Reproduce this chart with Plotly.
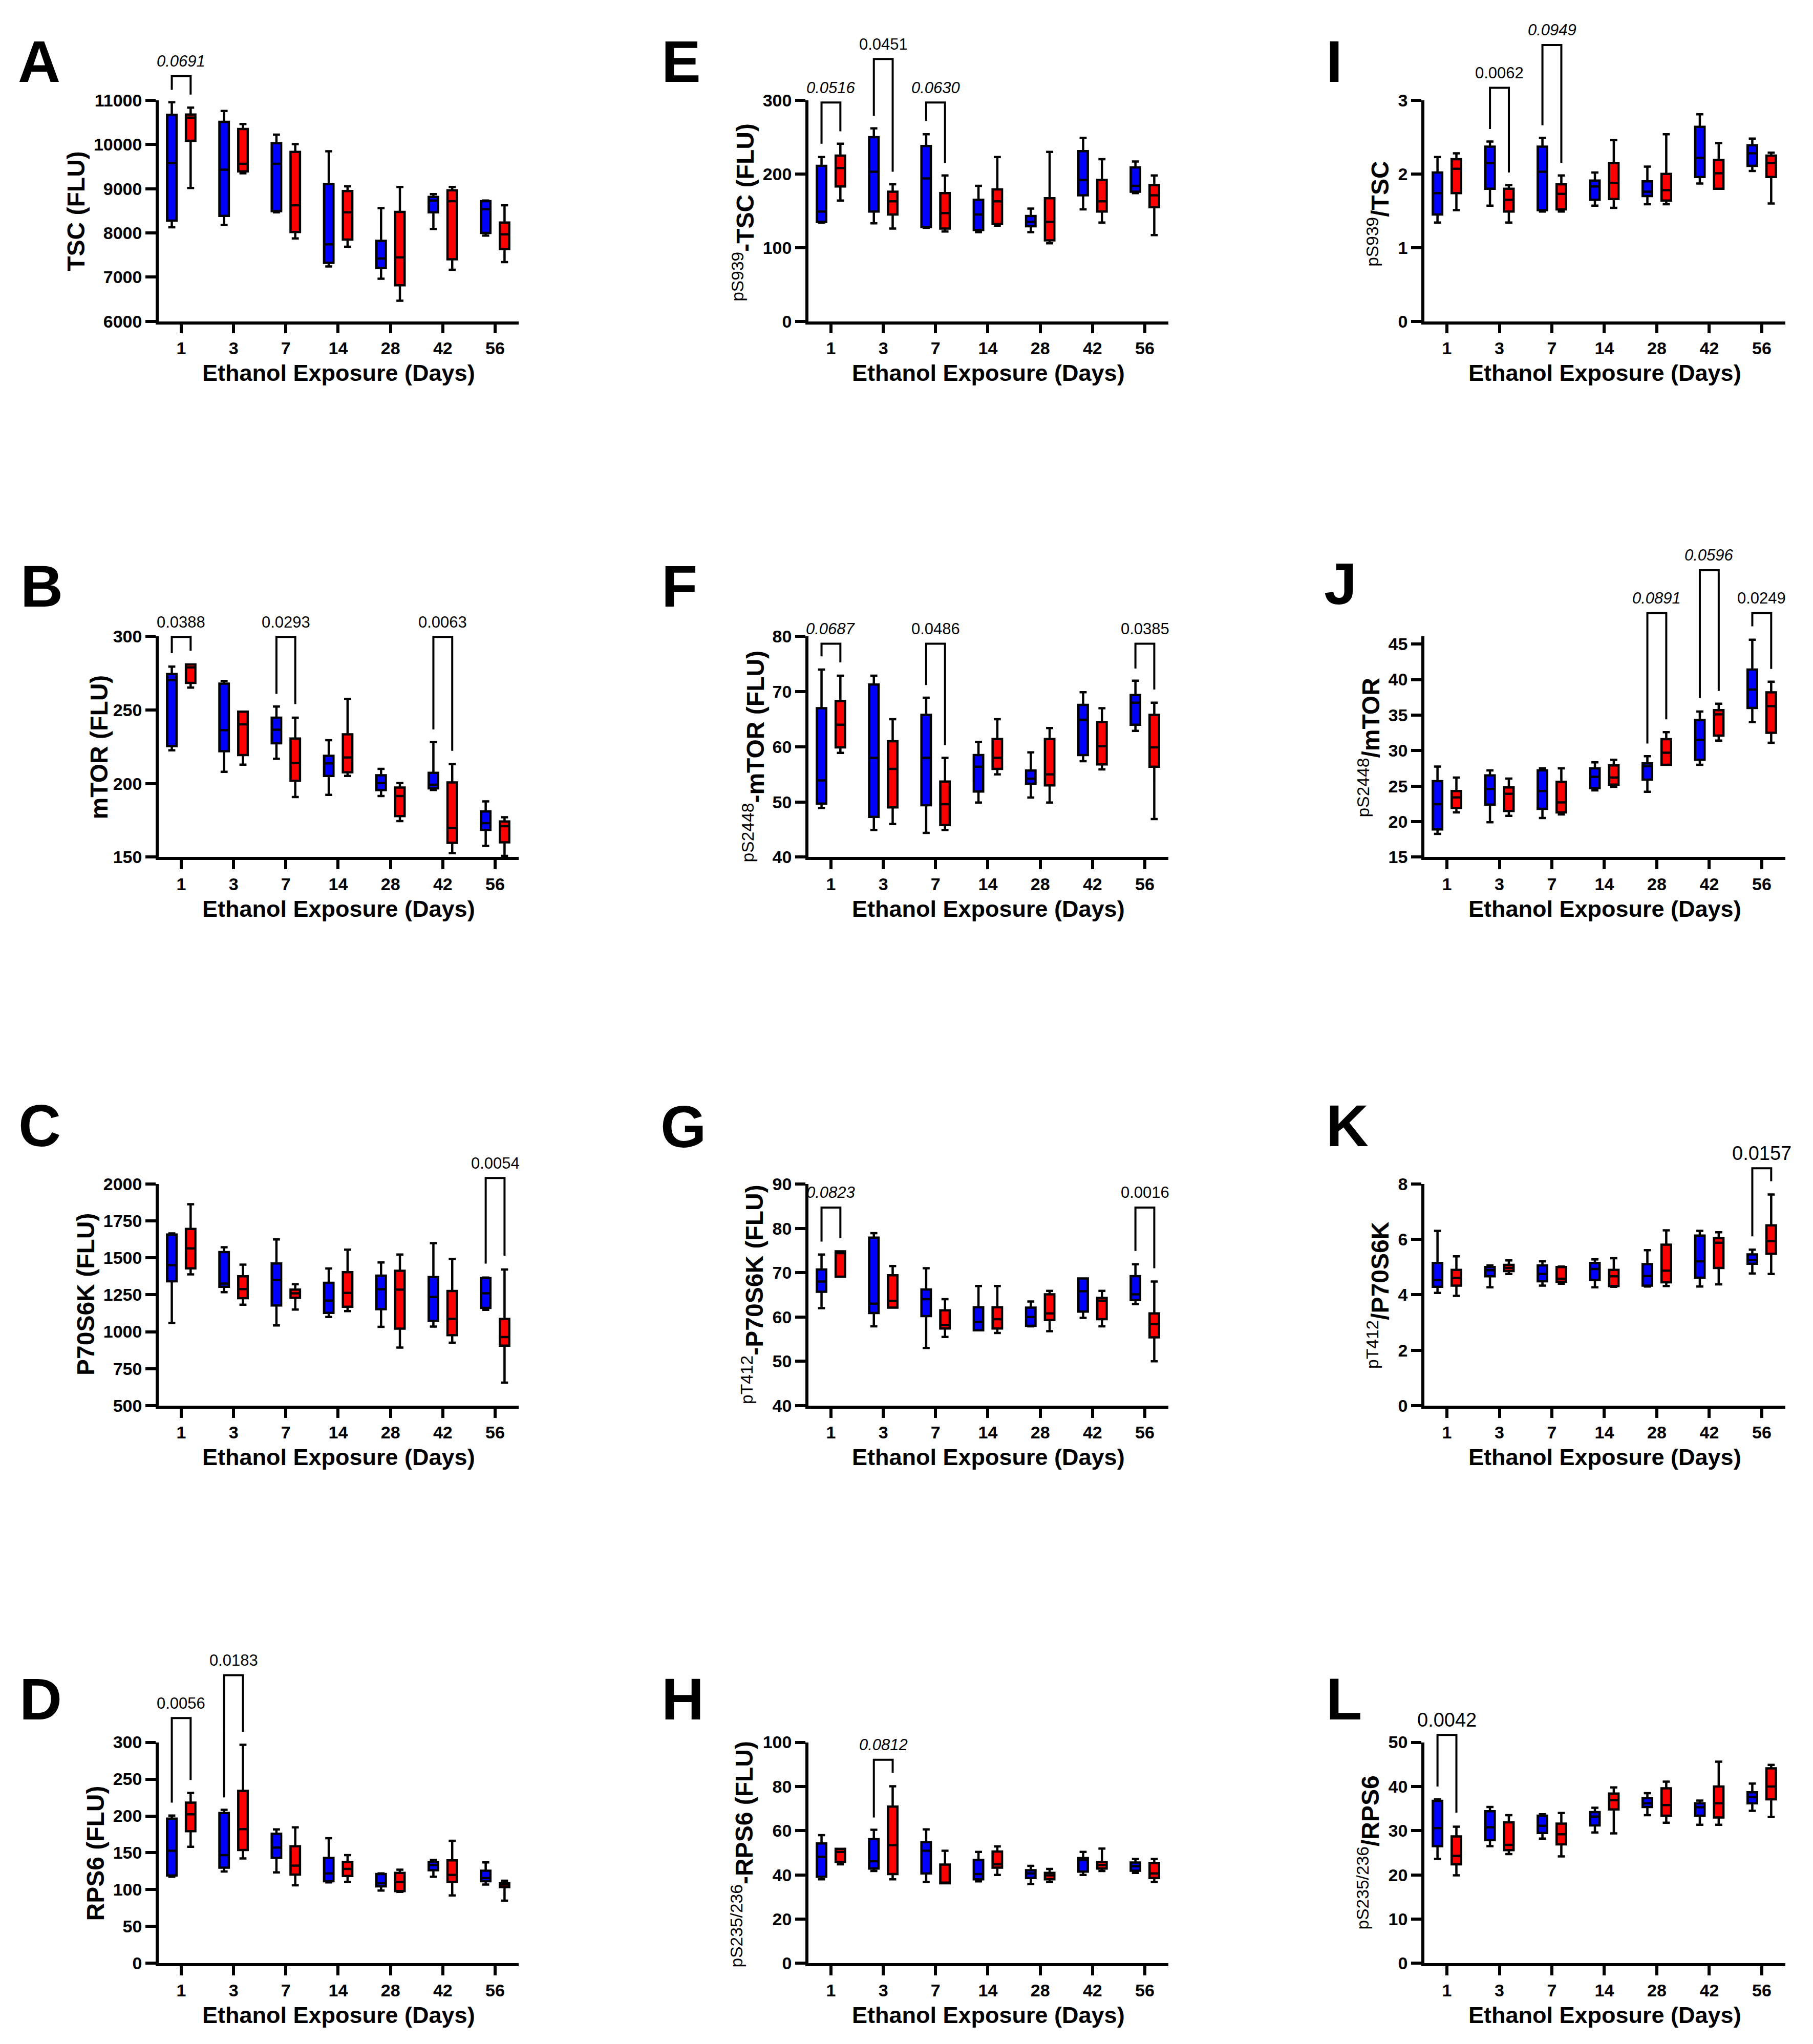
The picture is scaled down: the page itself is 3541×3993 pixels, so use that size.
import plotly.graph_objects as go

W, H = 3541, 3993
FONT = "Liberation Sans, Arial, Helvetica, sans-serif"
DAYS = ["1", "3", "7", "14", "28", "42", "56"]
X_TITLE = "Ethanol Exposure (Days)"

# ---- data: per day (lower whisker, Q1, median, Q3, upper whisker) ----
A_ctl = [(8128, 8278, 9580, 10673, 10957), (8181, 8385, 9430, 10512, 10759), (8465, 8492, 9564, 10030, 10223),
         (7243, 7324, 7742, 9108, 9848), (6965, 7206, 7420, 7822, 8562), (8090, 8465, 8733, 8814, 8878),
         (7940, 7999, 8535, 8717, 8733)]
A_eth = [(9017, 10084, 10609, 10678, 10834), (9349, 9392, 9564, 10352, 10464), (7876, 8020, 8626, 9832, 10009),
         (7688, 7849, 8465, 8947, 9055), (6466, 6815, 7447, 8476, 9039), (7168, 7404, 8717, 8964, 9039),
         (7340, 7635, 7967, 8235, 8626)]
B_ctl = [(222.6, 225.5, 270.5, 274.5, 279.5), (208, 222, 236.3, 268, 269.8), (216.9, 227.4, 236.6, 244.8, 252.4),
         (192.3, 205.2, 213.7, 218.9, 229.5), (191.5, 195.5, 200.3, 205.6, 210), (195.6, 196.8, 199.2, 207.3, 228.2),
         (157.6, 168.5, 173.1, 181, 187.9)]
B_eth = [(265.3, 268.5, 279, 281, 281), (212.9, 219.4, 240.3, 248.9, 248.9), (190.8, 201.9, 214, 230.6, 244.8),
         (205.2, 207.6, 217.7, 233.5, 257.6), (174.5, 177.9, 191.5, 197.3, 200.3), (152.7, 159.7, 169.7, 200.8, 213.2),
         (150.8, 160, 171, 174.2, 177.1)]
C_ctl = [(1059, 1342, 1452, 1658, 1666), (1268, 1304, 1326, 1539, 1572), (1043, 1178, 1350, 1462, 1625),
         (1100, 1128, 1211, 1331, 1428), (1033, 1153, 1288, 1380, 1469), (1035, 1074, 1235, 1370, 1600),
         (1148, 1161, 1260, 1363, 1367)]
C_eth = [(1388, 1429, 1564, 1696, 1863), (1183, 1227, 1289, 1375, 1454), (1150, 1230, 1260, 1285, 1322),
         (1140, 1169, 1263, 1403, 1556), (893, 1021, 1285, 1413, 1523), (926, 977, 1087, 1276, 1493),
         (655, 906, 964, 1087, 1421)]
D_ctl = [(117.5, 119.3, 152.8, 196.3, 200.5), (124.6, 129.9, 146.8, 204, 208.3), (123.5, 143.3, 157.1, 175.8, 181.8),
         (109.8, 111.5, 122.1, 143, 169.8), (98.8, 104.5, 108.7, 121.1, 122.1), (117.5, 126.4, 133.4, 137.7, 140.5),
         (107, 111.5, 115.8, 125.7, 137)]
D_eth = [(158.1, 179.3, 202.3, 218.1, 231.2), (142.3, 153.9, 182.1, 234, 296.5), (105.9, 120.4, 132.7, 158.8, 184.6),
         (110.5, 118.6, 128.1, 137.7, 146.8), (97.1, 98.1, 110.5, 122.8, 127.1), (92.1, 110.5, 120, 139.8, 166.3),
         (85.1, 103.4, 107, 108.7, 112.2)]
E_ctl = [(134, 135, 149, 211, 223), (133, 149, 203, 250, 262), (127, 128, 194, 238, 254), (121, 124, 145, 165, 184),
         (121, 129, 135, 143, 153), (152, 171, 192, 231, 249), (174, 176, 184, 209, 217)]
E_eth = [(164, 183, 208, 225, 241), (126, 145, 163, 176, 186), (122, 126, 147, 174, 198), (130, 132, 163, 179, 223),
         (106, 110, 135, 167, 230), (134, 149, 163, 192, 220), (117, 155, 171, 185, 198)]
F_ctl = [(48.9, 49.7, 53.9, 67.0, 74.0), (44.9, 47.3, 58.0, 71.3, 72.9), (44.4, 49.4, 58.0, 65.8, 68.9),
         (49.9, 51.9, 56.4, 58.5, 60.9), (50.8, 53.3, 54.2, 55.7, 59.0), (57.4, 58.5, 64.9, 67.6, 69.9),
         (62.9, 64.0, 68.0, 69.4, 72.0)]
F_eth = [(58.9, 59.9, 64.0, 68.3, 72.9), (46.0, 49.0, 56.0, 61.0, 65.0), (44.9, 45.8, 49.6, 53.7, 58.0),
         (55.0, 56.0, 58.0, 61.4, 65.0), (49.9, 53.0, 55.0, 61.4, 63.4), (55.9, 56.8, 60.1, 64.5, 67.0),
         (46.9, 56.4, 59.9, 65.8, 68.0)]
G_ctl = [(62.0, 65.7, 68.0, 70.7, 74.1), (57.9, 60.9, 63.0, 77.9, 78.9), (53.0, 60.2, 64.0, 66.2, 71.0),
         (57.0, 57.0, 58.9, 62.2, 67.0), (57.9, 58.0, 60.0, 62.1, 63.5), (59.8, 61.2, 65.8, 68.7, 68.7),
         (62.9, 63.8, 65.1, 69.2, 71.9)]
G_eth = [(69.1, 69.1, 74.4, 74.8, 74.8), (62.1, 62.1, 63.6, 69.4, 71.5), (55.5, 57.4, 58.2, 61.5, 64.0),
         (56.4, 57.4, 59.5, 62.2, 67.0), (56.8, 59.3, 60.8, 65.1, 65.9), (57.9, 59.5, 63.7, 64.3, 65.9),
         (50.0, 55.4, 58.4, 60.8, 68.0)]
H_ctl = [(38.0, 39.2, 48.2, 54.2, 58.0), (41.8, 42.9, 46.2, 56.2, 60.4), (36.8, 40.7, 50.9, 54.8, 60.6),
         (37.1, 38.0, 40.4, 46.8, 50.4), (35.9, 38.6, 40.7, 42.1, 44.1), (40.0, 41.5, 46.8, 47.6, 50.4),
         (40.9, 41.9, 43.9, 45.6, 47.2)]
H_eth = [(44.8, 45.9, 50.4, 51.8, 51.8), (38.0, 40.4, 53.5, 70.9, 80.1), (36.2, 36.2, 36.5, 44.7, 50.9),
         (40.0, 43.3, 44.8, 50.6, 52.9), (36.8, 38.0, 39.8, 40.9, 42.7), (41.8, 42.9, 44.5, 45.9, 51.9),
         (36.8, 38.6, 40.7, 45.4, 47.2)]
I_ctl = [(1.34, 1.45, 1.74, 2.02, 2.23), (1.57, 1.80, 2.15, 2.37, 2.44), (1.49, 1.51, 2.03, 2.37, 2.49),
         (1.57, 1.65, 1.83, 1.91, 2.02), (1.59, 1.70, 1.76, 1.90, 2.10), (1.87, 1.96, 2.22, 2.64, 2.81),
         (2.04, 2.11, 2.28, 2.39, 2.48)]
I_eth = [(1.51, 1.74, 2.07, 2.20, 2.28), (1.34, 1.49, 1.65, 1.80, 1.85), (1.49, 1.52, 1.73, 1.86, 1.98),
         (1.54, 1.66, 1.88, 2.15, 2.46), (1.59, 1.64, 1.78, 2.00, 2.54), (1.80, 1.80, 2.01, 2.19, 2.42),
         (1.60, 1.96, 2.15, 2.25, 2.29)]
J_ctl = [(18.26, 18.9, 22.44, 25.7, 27.75), (19.9, 22.4, 24.6, 26.5, 27.2), (20.5, 21.8, 24.3, 27.2, 27.5),
         (24.4, 24.7, 26.3, 27.5, 28.35), (24.2, 25.9, 27.8, 28.2, 29.2), (28.0, 28.7, 31.5, 34.3, 35.5),
         (34.0, 36.0, 38.6, 41.4, 45.6)]
J_eth = [(21.3, 21.9, 23.4, 24.3, 26.2), (20.8, 21.5, 23.9, 24.8, 26.05), (21.0, 21.3, 22.7, 25.6, 27.5),
         (24.9, 25.2, 26.2, 27.9, 28.7), (28.0, 28.0, 29.7, 31.6, 32.6), (31.4, 32.1, 35.1, 35.7, 36.6),
         (31.1, 32.5, 36.25, 38.2, 39.7)]
K_ctl = [(4.07, 4.29, 4.54, 5.15, 6.31), (4.27, 4.67, 4.89, 5.00, 5.06), (4.33, 4.49, 4.75, 5.06, 5.21),
         (4.27, 4.54, 4.93, 5.15, 5.28), (4.30, 4.33, 4.68, 5.11, 5.61), (4.30, 4.62, 5.21, 6.14, 6.31),
         (4.77, 5.12, 5.26, 5.46, 5.63)]
K_eth = [(3.96, 4.33, 4.61, 4.90, 5.39), (4.75, 4.86, 4.97, 5.08, 5.24), (4.40, 4.47, 4.58, 5.00, 5.02),
         (4.29, 4.32, 4.67, 4.90, 5.32), (4.32, 4.45, 4.87, 5.81, 6.33), (4.38, 4.97, 5.88, 6.05, 6.26),
         (4.75, 5.48, 5.94, 6.51, 7.62)]
L_ctl = [(23.6, 26.5, 30.6, 36.76, 37.06), (26.5, 27.9, 30.8, 34.4, 35.35), (28.2, 29.5, 31.1, 33.4, 33.7),
         (29.6, 31.2, 33.2, 34.2, 35.2), (33.5, 35.35, 36.2, 37.35, 38.5), (31.35, 33.4, 35.3, 36.2, 36.8),
         (34.5, 36.2, 37.6, 38.7, 40.65)]
L_eth = [(19.9, 22.4, 24.3, 28.7, 30.9), (24.7, 25.6, 26.8, 31.9, 33.5), (24.2, 26.9, 29.2, 31.6, 34.0),
         (29.4, 34.8, 36.9, 38.4, 39.8), (31.8, 33.4, 35.8, 39.6, 41.1), (31.35, 33.0, 36.2, 40.0, 45.6),
         (33.1, 37.1, 40.0, 44.1, 44.9)]

# ---- significance brackets: (day index, top, left leg end, right leg end, p label, italic) ----
A_sig = [(0, 11547, 11236, 11129, "0.0691", True)]
B_sig = [(0, 299.7, 288.7, 290.3, "0.0388", False), (2, 299.7, 261, 254, "0.0293", False),
         (5, 299.7, 236.8, 222.3, "0.0063", False)]
C_sig = [(6, 2041, 1461, 1515, "0.0054", False)]
D_sig = [(0, 332.9, 218.1, 248.9, "0.0056", False), (1, 391.1, 225.2, 314.2, "0.0183", False)]
E_sig = [(0, 297, 241, 258, "0.0516", True), (1, 356, 279, 203, "0.0451", False), (2, 297, 272, 215, "0.0630", True)]
F_sig = [(0, 78.7, 76.4, 75.3, "0.0687", True), (2, 78.7, 71.2, 60.3, "0.0486", False),
         (6, 78.7, 74.2, 70.4, "0.0385", False)]
G_sig = [(0, 84.7, 77.0, 77.8, "0.0823", True), (6, 84.7, 74.9, 71.0, "0.0016", False)]
H_sig = [(1, 92.1, 66.0, 86.2, "0.0812", True)]
I_sig = [(1, 3.17, 2.61, 2.02, "0.0062", False), (2, 3.75, 2.66, 2.15, "0.0949", True)]
J_sig = [(4, 49.36, 31.0, 34.4, "0.0891", True), (5, 55.4, 37.4, 38.4, "0.0596", True),
         (6, 49.36, 47.5, 41.5, "0.0249", False)]
K_sig = [(6, 8.57, 6.11, 8.1, "0.0157", False)]
L_sig = [(0, 51.65, 40, 34.1, "0.0042", False)]

# ---- y ticks ----
A_ticks = [6000, 7000, 8000, 9000, 10000, 11000]
B_ticks = [150, 200, 250, 300]
C_ticks = [500, 750, 1000, 1250, 1500, 1750, 2000]
D_ticks = [0, 50, 100, 150, 200, 250, 300]
E_ticks = [0, 100, 200, 300]
F_ticks = [40, 50, 60, 70, 80]
G_ticks = [40, 50, 60, 70, 80, 90]
H_ticks = [0, 20, 40, 60, 80, 100]
I_ticks = [0, 1, 2, 3]
J_ticks = [15, 20, 25, 30, 35, 40, 45]
K_ticks = [0, 2, 4, 6, 8]
L_ticks = [0, 10, 20, 30, 40, 50]

# ---- layout geometry (pixels of the target picture) ----
COL_PX = [(310, 1013), (1579, 2282), (2782, 3487)]
ROW_PX = [(198, 630), (1246, 1677), (2316, 2749), (3407, 3839)]
XRANGE = [-0.43, 6.45]
BOXGAP = 0.28
GROUPGAP = 0.5
OFFSET = 0.25 * (1 - BOXGAP)
# vertical calibration of the photographed page (observed offset / scale)
Y_OFF = 21.0
Y_SCALE = 0.9909

PANELS = [
    dict(L="A", ctl=A_ctl, eth=A_eth, sig=A_sig, yr=[6000, 11000], yt=A_ticks, row=0, col=0,
         title="<b>TSC (FLU)</b>", tpos=(149, 415), lpos=(33, 122), ls=31),
    dict(L="B", ctl=B_ctl, eth=B_eth, sig=B_sig, yr=[150, 300], yt=B_ticks, row=1, col=0,
         title="<b>mTOR (FLU)</b>", tpos=(193, 1462), lpos=(38, 1147), ls=31),
    dict(L="C", ctl=C_ctl, eth=C_eth, sig=C_sig, yr=[500, 2000], yt=C_ticks, row=2, col=0,
         title="<b>P70S6K (FLU)</b>", tpos=(168, 2532), lpos=(34, 2202), ls=31),
    dict(L="D", ctl=D_ctl, eth=D_eth, sig=D_sig, yr=[0, 300], yt=D_ticks, row=3, col=0,
         title="<b>RPS6 (FLU)</b>", tpos=(186, 3624), lpos=(36, 3322), ls=31),
    dict(L="E", ctl=E_ctl, eth=E_eth, sig=E_sig, yr=[0, 300], yt=E_ticks, row=0, col=1,
         title="<sup>pS939</sup><b>-TSC (FLU)</b>", tpos=(1452, 417), lpos=(1290, 122), ls=31),
    dict(L="F", ctl=F_ctl, eth=F_eth, sig=F_sig, yr=[40, 80], yt=F_ticks, row=1, col=1,
         title="<sup>pS2448</sup><b>-mTOR (FLU)</b>", tpos=(1472, 1480), lpos=(1290, 1147), ls=31),
    dict(L="G", ctl=G_ctl, eth=G_eth, sig=G_sig, yr=[40, 90], yt=G_ticks, row=2, col=1,
         title="<sup>pT412</sup><b>-P70S6K (FLU)</b>", tpos=(1470, 2532), lpos=(1288, 2204), ls=31),
    dict(L="H", ctl=H_ctl, eth=H_eth, sig=H_sig, yr=[0, 100], yt=H_ticks, row=3, col=1,
         title="<sup>pS235/236</sup><b>-RPS6 (FLU)</b>", tpos=(1450, 3626), lpos=(1290, 3322), ls=31),
    dict(L="I", ctl=I_ctl, eth=I_eth, sig=I_sig, yr=[0, 3], yt=I_ticks, row=0, col=2,
         title="<sup>pS939</sup><b>/TSC</b>", tpos=(2692, 420), lpos=(2588, 122), ls=31),
    dict(L="J", ctl=J_ctl, eth=J_eth, sig=J_sig, yr=[15, 46.06], yt=J_ticks, row=1, col=2,
         title="<sup>pS2448</sup><b>/mTOR</b>", tpos=(2674, 1463), lpos=(2584, 1142), ls=31),
    dict(L="K", ctl=K_ctl, eth=K_eth, sig=K_sig, yr=[0, 8], yt=K_ticks, row=2, col=2,
         title="<sup>pT412</sup><b>/P70S6K</b>", tpos=(2692, 2533), lpos=(2588, 2202), ls=38),
    dict(L="L", ctl=L_ctl, eth=L_eth, sig=L_sig, yr=[0, 50], yt=L_ticks, row=3, col=2,
         title="<sup>pS235/236</sup><b>/RPS6</b>", tpos=(2673, 3623), lpos=(2588, 3322), ls=38),
]


def paper_x(px):
    return px / W


def paper_y(py):
    py = (py - Y_OFF) / Y_SCALE
    return 1 - py / H


def data_to_px_y(v, yr, row):
    top, bot = ROW_PX[row]
    return bot - (v - yr[0]) / (yr[1] - yr[0]) * (bot - top)


def data_to_px_x(pos, col):
    left, right = COL_PX[col]
    return left + (pos - XRANGE[0]) / (XRANGE[1] - XRANGE[0]) * (right - left)


fig = go.Figure()
shapes = []
annotations = []
axis_font = dict(family=FONT, size=34, color="black", weight="bold")

for n, p in enumerate(PANELS, start=1):
    xa, ya = f"x{n}", f"y{n}"
    for series, color, grp in ((p["ctl"], "#0000FF", "ctl"), (p["eth"], "#FF0000", "eth")):
        fig.add_trace(go.Box(
            x=DAYS,
            lowerfence=[s[0] for s in series],
            q1=[s[1] for s in series],
            median=[s[2] for s in series],
            q3=[s[3] for s in series],
            upperfence=[s[4] for s in series],
            fillcolor=color,
            line=dict(color="black", width=4.5),
            whiskerwidth=0.75,
            boxpoints=False,
            offsetgroup=grp,
            xaxis=xa, yaxis=ya,
            showlegend=False,
            hoverinfo="skip",
        ))
    left, right = COL_PX[p["col"]]
    top, bot = ROW_PX[p["row"]]
    xkey = "xaxis" if n == 1 else f"xaxis{n}"
    ykey = "yaxis" if n == 1 else f"yaxis{n}"
    fig.layout[xkey] = dict(
        domain=[paper_x(left), paper_x(right)], anchor=ya, type="category",
        categoryorder="array", categoryarray=DAYS, range=XRANGE,
        showline=True, linewidth=5.5, linecolor="black", ticks="outside",
        ticklen=18, tickwidth=5.5, tickcolor="black", tickfont=axis_font,
        showgrid=False, zeroline=False, fixedrange=True,
    )
    fig.layout[ykey] = dict(
        domain=[paper_y(bot), paper_y(top)], anchor=xa, range=p["yr"],
        tickmode="array", tickvals=p["yt"], ticktext=[str(t) for t in p["yt"]],
        showline=True, linewidth=5.5, linecolor="black", ticks="outside",
        ticklen=20, tickwidth=5.5, tickcolor="black", tickfont=axis_font,
        showgrid=False, zeroline=False, fixedrange=True,
    )
    # panel letter
    annotations.append(dict(
        text=f"<b>{p['L']}</b>", x=paper_x(p["lpos"][0]), y=paper_y(p["lpos"][1]),
        xref="paper", yref="paper", xanchor="left", yanchor="middle", showarrow=False,
        font=dict(family=FONT, size=115, color="black"),
    ))
    # y title
    annotations.append(dict(
        text=p["title"], x=paper_x(p["tpos"][0]), y=paper_y(p["tpos"][1]),
        xref="paper", yref="paper", xanchor="center", yanchor="middle", showarrow=False,
        textangle=-90, font=dict(family=FONT, size=48, color="black"),
    ))
    # x title
    annotations.append(dict(
        text=f"<b>{X_TITLE}</b>", x=paper_x((left + right) / 2), y=paper_y(bot + 101),
        xref="paper", yref="paper", xanchor="center", yanchor="middle", showarrow=False,
        font=dict(family=FONT, size=45, color="black"),
    ))
    # significance brackets
    for (idx, ytop, yl, yrr, lab, ital) in p["sig"]:
        xl = paper_x(data_to_px_x(idx - OFFSET, p["col"]))
        xr = paper_x(data_to_px_x(idx + OFFSET, p["col"]))
        yt_ = paper_y(data_to_px_y(ytop, p["yr"], p["row"]))
        yl_ = paper_y(data_to_px_y(yl, p["yr"], p["row"]))
        yr_ = paper_y(data_to_px_y(yrr, p["yr"], p["row"]))
        shapes.append(dict(
            type="path", xref="paper", yref="paper",
            path=f"M {xl},{yl_} L {xl},{yt_} L {xr},{yt_} L {xr},{yr_}",
            line=dict(color="black", width=4),
        ))
        txt = f"<i>{lab}</i>" if ital else lab
        annotations.append(dict(
            text=txt, x=(xl + xr) / 2, y=yt_, xref="paper", yref="paper",
            xanchor="center", yanchor="middle", yshift=29, showarrow=False,
            font=dict(family=FONT, size=p["ls"], color="black"),
        ))

fig.update_layout(
    width=W, height=H, margin=dict(l=0, r=0, t=0, b=0),
    paper_bgcolor="white", plot_bgcolor="white",
    boxmode="group", boxgap=BOXGAP, boxgroupgap=GROUPGAP,
    showlegend=False, shapes=shapes, annotations=annotations,
    font=dict(family=FONT, color="black"),
)

PAGE_FIX = (
    "var de=document.documentElement, b=document.body;"
    "[de,b].forEach(function(e){e.style.margin='0';e.style.padding='0';"
    "e.style.height='3993px';e.style.width='3541px';e.style.overflow='hidden';});"
    "var g=document.getElementsByClassName('plotly-graph-div')[0];"
    "if(g){g.style.position='absolute';g.style.top='0px';g.style.left='0px';}"
)

fig.write_html(
    "out.html",
    config={"displayModeBar": False},
    post_script=PAGE_FIX,
)
